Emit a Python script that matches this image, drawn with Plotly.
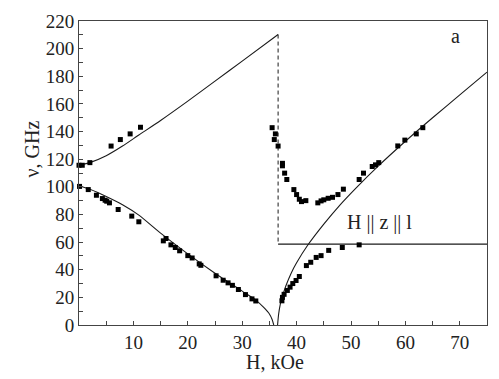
import plotly.graph_objects as go

# theory curves
H_up = [0, 2, 5, 8, 11, 15, 20, 25, 30, 36.6]
nu_up = [115.5, 117.5, 122.5, 129.5, 137.5, 148, 162, 176.5, 191, 210.2]

H_low = [0, 2, 5, 8, 11, 15, 20, 25, 30, 32.5, 34, 35, 35.5, 35.8]
nu_low = [100.8, 98.2, 93, 87, 79.5, 66.5, 51.5, 37.5, 24.5, 18, 12.5, 8, 4, 0]

H_right = [36.5, 36.7, 37, 37.5, 38, 39, 40, 42, 45, 48, 51, 55, 60, 65, 70, 75]
nu_right = [0, 8, 15, 22, 28, 37.5, 45, 57.5, 73, 87, 99.5, 115, 133, 150, 166.5, 183]

H_jump = [36.6, 36.6]
nu_jump = [210.2, 58.5]
H_flat = [36.6, 75]
nu_flat = [58.5, 58.5]

# measured points
H_pts_up = [0, 0.6, 2, 5.9, 7.6, 9.4, 11.3]
nu_pts_up = [115.6, 115.6, 117.5, 129.5, 134.2, 138.3, 143.1]

H_pts_low = [0.1, 1.7, 3.2, 4.3, 4.8, 5.1, 5.6, 7.2, 9.7, 11, 15.5, 16, 16.9, 17.7,
             18.5, 20, 20.8, 22.1, 22.4, 25.2, 26.5, 27.4, 28.2, 29.3, 30.6, 31.8, 32.5]
nu_pts_low = [100.3, 98, 93.9, 91.5, 90.3, 89.6, 88.4, 83.6, 78.8, 74.7, 60.9, 62.6, 58, 56.1,
              53.7, 50.2, 48.5, 44.2, 43.2, 35.6, 32.4, 30.5, 28.7, 25.7, 22, 18.9, 17.4]

H_pts_dip = [35.5, 36.1, 35.9, 36.6, 37.4, 37.4, 37.8, 38.2, 39.5, 40, 40.5, 40.9, 41.7,
             43.9, 44.5, 45, 45.8, 46.6, 47.6, 48.6, 51.5, 52.3, 53.9, 54.5, 55.1,
             58.6, 59.9, 62, 63.2]
nu_pts_dip = [142.8, 138.3, 134.2, 129.5, 117, 115.2, 109.9, 105.3, 98, 94.4, 91, 89.3, 90,
              88.4, 89.8, 90.6, 91.7, 92.4, 94.4, 98.3, 105.3, 109.9, 114.7, 115.9, 117.5,
              129.6, 133.8, 138.3, 142.8]

H_pts_rise = [37.3, 37.4, 37.7, 38.3, 38.8, 39.3, 39.9, 40.5, 41.8, 42.6, 43.6, 44.5,
              45.9, 48.4, 51.5]
nu_pts_rise = [17.5, 20, 22.2, 25, 27.4, 30, 32.2, 35.1, 43, 45.4, 48.9, 50.2,
               54, 56.1, 58]

INK = "#1a1a1a"
SERIF = "Liberation Serif, Times New Roman, serif"

fig = go.Figure()

for hx, ny in [(H_up, nu_up), (H_low, nu_low), (H_right, nu_right), (H_flat, nu_flat)]:
    fig.add_trace(go.Scatter(x=hx, y=ny, mode="lines",
                             line=dict(color=INK, width=1.1, shape="spline", smoothing=0.6),
                             showlegend=False, hoverinfo="skip"))

fig.add_trace(go.Scatter(x=H_jump, y=nu_jump, mode="lines",
                         line=dict(color=INK, width=1, dash="4px,3px"),
                         showlegend=False, hoverinfo="skip"))

for hx, ny in [(H_pts_up, nu_pts_up), (H_pts_low, nu_pts_low),
               (H_pts_dip, nu_pts_dip), (H_pts_rise, nu_pts_rise)]:
    fig.add_trace(go.Scatter(x=hx, y=ny, mode="markers",
                             marker=dict(symbol="square", size=5, color="black"),
                             cliponaxis=False, showlegend=False))

axis_style = dict(
    showline=True, linecolor="#444", linewidth=1, mirror=True,
    showgrid=False, zeroline=False,
    ticks="inside", ticklen=4, tickcolor="#444",
    tickfont=dict(family=SERIF, size=19, color="#222"),
)

fig.update_xaxes(range=[0, 75], tickvals=[10, 20, 30, 40, 50, 60, 70],
                 minor=dict(tickvals=[5, 15, 25, 35, 45, 55, 65], ticks="inside",
                            ticklen=4, tickcolor="#444"),
                 **axis_style)
fig.update_yaxes(range=[0, 220], dtick=20, tick0=0,
                 minor=dict(dtick=10, ticks="inside", ticklen=4, tickcolor="#444"),
                 **axis_style)

fig.add_annotation(text="ν, GHz", xref="paper", yref="y", x=0, y=127,
                   xanchor="center", yanchor="middle",
                   xshift=-47, textangle=-90, showarrow=False,
                   font=dict(family=SERIF, size=20, color="#222"))
fig.add_annotation(text="H, kOe", xref="x", yref="paper", x=36, y=0,
                   xanchor="center", yanchor="middle",
                   yshift=-37, showarrow=False,
                   font=dict(family=SERIF, size=20, color="#222"))
fig.add_annotation(text="a", x=69.2, y=209, showarrow=False,
                   font=dict(family=SERIF, size=20, color="#222"))
fig.add_annotation(text="H || z || l", x=55.3, y=74.5, showarrow=False,
                   font=dict(family=SERIF, size=20, color="#222"))

fig.update_layout(
    width=499, height=379,
    margin=dict(l=79, r=11, t=18, b=54),
    plot_bgcolor="white", paper_bgcolor="white",
    showlegend=False,
)

fig.write_html("out.html", config={"displayModeBar": False},
               post_script="document.body.style.margin='0';")
